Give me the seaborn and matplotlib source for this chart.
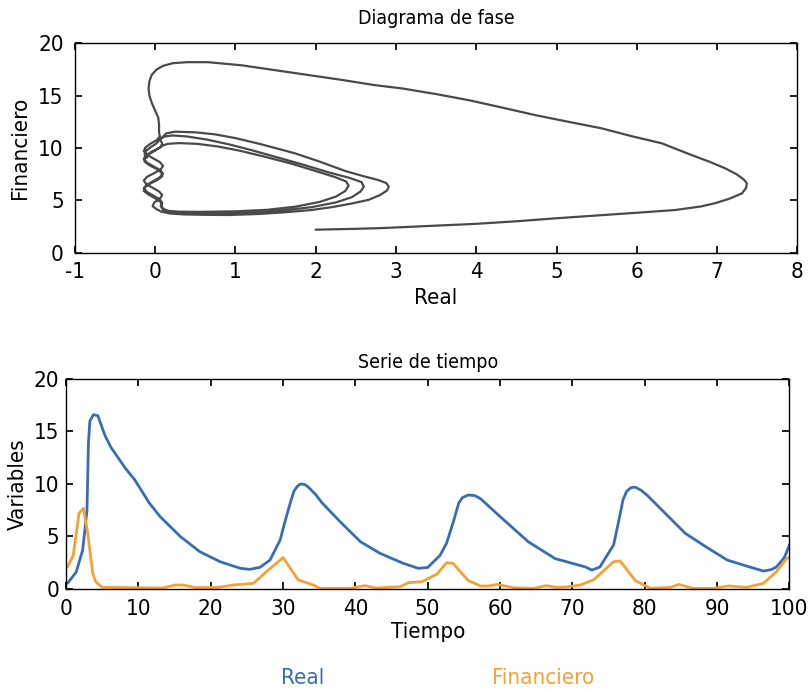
import matplotlib
matplotlib.use("Agg")
import matplotlib.pyplot as plt
import pandas as pd
import seaborn as sns

# ---- phase diagram trajectory, piece by piece ----
outer_x = [2.0, 2.5, 2.82, 3.4, 3.98, 4.5, 4.98, 5.5, 6.06, 6.48, 6.8, 6.97, 7.15, 7.31, 7.36, 7.37, 7.33,
           7.24, 7.1, 6.9, 6.68, 6.31, 5.95, 5.56, 5.15, 4.73, 4.3, 3.9, 3.5, 3.07, 2.74, 2.33, 1.91, 1.49,
           1.08, 0.66, 0.4, 0.22, 0.1, 0.02, -0.04, -0.07, -0.08, -0.07, -0.04, 0.0, 0.04, 0.05, 0.05]
outer_y = [2.2, 2.28, 2.35, 2.55, 2.75, 3.0, 3.28, 3.55, 3.85, 4.08, 4.42, 4.72, 5.15, 5.67, 6.2, 6.63, 7.0,
           7.5, 8.06, 8.7, 9.33, 10.45, 11.1, 11.88, 12.5, 13.15, 13.9, 14.58, 15.15, 15.7, 16.0, 16.5, 16.97, 17.45,
           17.9, 18.2, 18.2, 18.1, 17.85, 17.5, 17.0, 16.4, 15.7, 15.0, 14.3, 13.6, 12.9, 12.2, 11.5]

loop1_x = [0.06, 0.02, -0.06, -0.12, -0.14, -0.1, -0.02, 0.06, 0.1, 0.07, -0.01, -0.1, -0.14, -0.11, -0.03,
           0.05, 0.09, 0.06, -0.01, -0.03, 0.02, 0.08, 0.18, 0.35, 0.6, 0.91, 1.3, 1.65, 1.95, 2.2, 2.45,
           2.66, 2.8, 2.89, 2.91, 2.88, 2.78, 2.6, 2.37, 2.05, 1.74, 1.3, 1.0, 0.75, 0.5, 0.25, 0.14]
loop1_y = [11.1, 10.75, 10.4, 10.05, 9.7, 9.35, 9.0, 8.65, 8.3, 7.95, 7.6, 7.25, 6.9, 6.55, 6.2,
           5.85, 5.5, 5.15, 4.8, 4.45, 4.15, 3.92, 3.75, 3.66, 3.62, 3.6, 3.7, 3.88, 4.08, 4.35, 4.7,
           5.05, 5.5, 5.95, 6.3, 6.65, 6.94, 7.3, 7.8, 8.7, 9.5, 10.4, 10.95, 11.3, 11.5, 11.56, 11.4]

loop2_x = [0.06, 0.09, 0.07, 0.0, -0.08, -0.13, -0.13, -0.07, 0.02, 0.08, 0.09, 0.03, -0.06, -0.13, -0.14,
           -0.08, 0.0, 0.07, 0.08, 0.1, 0.16, 0.3, 0.55, 1.0, 1.4, 1.75, 2.05, 2.25, 2.37, 2.41, 2.38, 2.25,
           2.0, 1.7, 1.35, 1.05, 0.78, 0.52, 0.3, 0.16, 0.1]
loop2_y = [10.8, 10.45, 10.1, 9.75, 9.4, 9.05, 8.7, 8.35, 8.0, 7.65, 7.3, 6.95, 6.6, 6.25, 5.9,
           5.55, 5.2, 4.85, 4.5, 4.2, 4.0, 3.92, 3.9, 3.95, 4.1, 4.4, 4.85, 5.35, 5.9, 6.4, 6.8, 7.2,
           7.8, 8.5, 9.2, 9.75, 10.15, 10.4, 10.47, 10.4, 10.25]

loop3_x = [0.05, -0.04, -0.11, -0.14, -0.1, -0.02, 0.06, 0.1, 0.06, -0.02, -0.1, -0.14, -0.1, -0.02, 0.06,
           0.09, 0.07, 0.1, 0.2, 0.4, 0.8, 1.2, 1.6, 1.95, 2.25, 2.45, 2.56, 2.6, 2.57, 2.42, 2.15, 1.85,
           1.5, 1.2, 0.92, 0.65, 0.4, 0.22, 0.12, 0.06, 0.02, -0.05, -0.11, -0.13, -0.1]
loop3_y = [10.0, 9.65, 9.3, 8.95, 8.6, 8.25, 7.9, 7.55, 7.2, 6.85, 6.5, 6.15, 5.8, 5.45, 5.1,
           4.75, 4.45, 4.1, 3.88, 3.78, 3.76, 3.85, 4.05, 4.35, 4.8, 5.3, 5.85, 6.3, 6.75, 7.15, 7.7, 8.4,
           9.15, 9.8, 10.35, 10.8, 11.1, 11.2, 11.1, 10.85, 10.45, 10.1, 9.75, 9.4, 9.05]

phase_x = outer_x + loop1_x + loop2_x + loop3_x
phase_y = outer_y + loop1_y + loop2_y + loop3_y

# ---- time series ----
t_real = [0.2, 1.4, 2.3, 2.9, 3.1, 3.3, 3.8, 4.4, 5.4, 6.2, 7.1, 8.2, 9.5, 11.5, 13.0, 15.8, 18.5, 21.3,
          24.1, 25.4, 26.8, 28.2, 29.6, 30.3, 31.0, 31.5, 32.0, 32.4, 33.0, 33.5, 34.5, 35.4, 37.9, 40.7,
          43.4, 46.6, 48.7, 50.0, 51.7, 52.6, 53.5, 54.3, 54.8, 55.6, 56.5, 57.3, 60.0, 63.9, 67.6, 71.8,
          72.7, 73.8, 75.7, 76.5, 77.0, 77.5, 78.1, 78.7, 79.5, 80.3, 85.6, 88.5, 91.4, 94.0, 96.4, 97.5,
          98.2, 99.3, 100.0]
real = [0.54, 1.6, 3.7, 7.5, 13.9, 16.0, 16.6, 16.5, 14.6, 13.5, 12.6, 11.5, 10.4, 8.2, 6.9, 5.0, 3.55, 2.6,
        1.97, 1.87, 2.06, 2.76, 4.67, 6.5, 8.2, 9.3, 9.8, 10.0, 9.95, 9.7, 9.0, 8.2, 6.4, 4.5,
        3.4, 2.45, 1.97, 2.05, 3.2, 4.35, 6.3, 8.2, 8.7, 8.95, 8.9, 8.6, 6.9, 4.5, 2.9, 2.1,
        1.8, 2.1, 4.2, 6.8, 8.5, 9.3, 9.65, 9.7, 9.4, 8.95, 5.3, 4.0, 2.76, 2.2, 1.71, 1.85,
        2.1, 3.0, 4.2]

t_fin = [0.2, 1.0, 1.8, 2.4, 3.0, 3.7, 4.1, 5.0, 13.4, 15.1, 16.2, 17.9, 21.1, 23.1, 25.9, 27.7, 30.0, 32.1,
         34.2, 35.1, 39.2, 41.3, 42.9, 46.2, 47.3, 49.2, 51.3, 52.6, 53.5, 55.6, 57.3, 58.4, 59.6, 61.8,
         64.6, 66.4, 67.8, 69.1, 71.1, 72.9, 75.7, 76.6, 78.7, 80.8, 83.6, 84.7, 86.7, 89.5, 91.6, 94.1,
         96.4, 98.2, 99.6, 100.0]
fin = [2.1, 3.2, 7.2, 7.7, 5.3, 1.5, 0.7, 0.16, 0.1, 0.38, 0.38, 0.13, 0.16, 0.38, 0.54, 1.65, 3.0, 0.86,
       0.38, 0.06, 0.06, 0.32, 0.1, 0.22, 0.6, 0.7, 1.43, 2.5, 2.45, 0.8, 0.29, 0.29, 0.44, 0.13,
       0.06, 0.32, 0.16, 0.19, 0.38, 0.86, 2.6, 2.67, 0.8, 0.06, 0.16, 0.44, 0.06, 0.06, 0.29, 0.16,
       0.54, 1.65, 2.9, 3.0]

BLUE = "#3a6cb5"
ORANGE = "#f7a035"

sns.set_theme(style="ticks")
plt.rcParams["font.family"] = ["Liberation Sans Narrow", "DejaVu Sans"]
plt.rcParams["font.stretch"] = "condensed"
plt.rcParams.update({
    "axes.unicode_minus": False,
    "text.color": "black", "axes.labelcolor": "black",
    "xtick.color": "black", "ytick.color": "black",
    "xtick.direction": "in", "ytick.direction": "in",
    "xtick.top": True, "ytick.right": True,
    "xtick.major.size": 5, "ytick.major.size": 5,
    "xtick.labelsize": 16, "ytick.labelsize": 16,
    "axes.edgecolor": "black", "axes.linewidth": 1.0,
})

fig = plt.figure(figsize=(8.08, 6.91), dpi=100)
ax1 = fig.add_axes([0.0925, 0.6343, 0.8945, 0.303])
ax2 = fig.add_axes([0.0817, 0.1476, 0.8953, 0.304])

# phase diagram
sns.lineplot(x=phase_x, y=phase_y, sort=False, estimator=None, color="#4a4a4a", lw=1.6, ax=ax1)
ax1.set_xlim(-1, 8)
ax1.set_ylim(0, 20)
ax1.set_xticks(range(-1, 9))
ax1.set_yticks([0, 5, 10, 15, 20])
ax1.tick_params(axis="y", pad=8)
ax1.tick_params(axis="x", pad=7)
ax1.set_title("Diagrama de fase", fontsize=14, pad=14)
ax1.set_xlabel("Real", fontsize=16, labelpad=4)
ax1.set_ylabel("Financiero", fontsize=16, labelpad=6)

# time series
df = pd.concat([
    pd.DataFrame({"Tiempo": t_real, "Valor": real, "Serie": "Real"}),
    pd.DataFrame({"Tiempo": t_fin, "Valor": fin, "Serie": "Financiero"}),
])
sns.lineplot(data=df, x="Tiempo", y="Valor", hue="Serie", palette={"Real": BLUE, "Financiero": ORANGE},
             estimator=None, lw=2, ax=ax2, legend=False)
ax2.set_xlim(0, 100)
ax2.set_ylim(0, 20)
ax2.set_xticks(range(0, 101, 10))
ax2.set_yticks([0, 5, 10, 15, 20])
ax2.tick_params(axis="y", pad=5)
ax2.tick_params(axis="x", pad=7)
ax2.set_title("Serie de tiempo", fontsize=14, pad=8)
ax2.set_xlabel("Tiempo", fontsize=16, labelpad=2)
ax2.set_ylabel("Variables", fontsize=16, labelpad=4)

for ax in (ax1, ax2):
    for s in ax.spines.values():
        s.set_visible(True)

fig.text(0.374, 0.01, "Real", color=BLUE, fontsize=16, ha="center")
fig.text(0.672, 0.01, "Financiero", color=ORANGE, fontsize=16, ha="center")

fig.savefig("out.png", dpi=100)
